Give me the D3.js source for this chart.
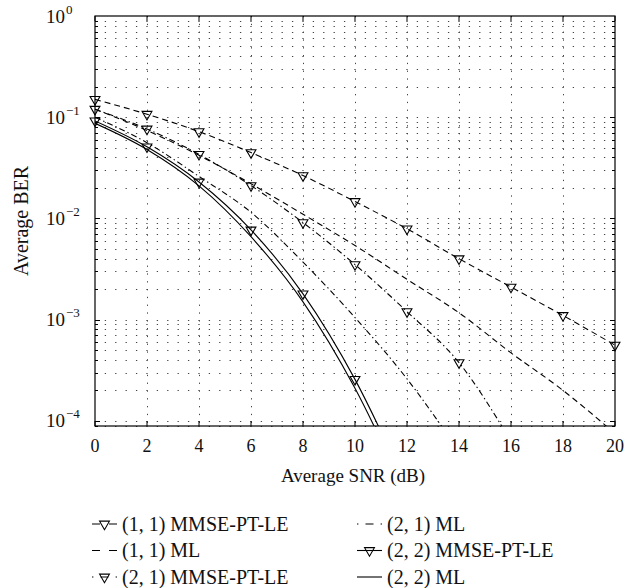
<!DOCTYPE html>
<html>
<head>
<meta charset="utf-8">
<script src="https://cdn.jsdelivr.net/npm/d3@7"></script>
<style>
  body { margin: 0; background: #fff; }
  svg { display: block; font-family: 'Liberation Serif', 'DejaVu Serif', serif; }
</style>
</head>
<body>
<div id="chart"></div>
<script>
// values
const snr = [0, 2, 4, 6, 8, 10, 12, 14, 16, 18, 20];
const ber11Mmse = [0.15, 0.107, 0.072, 0.0447, 0.0265, 0.0147, 0.0079, 0.004, 0.0021, 0.0011, 0.00056];
const ber11Ml = [0.12, 0.074, 0.042, 0.022, 0.011, 0.0054, 0.0025, 0.00117, 0.00047, 0.0002, 0.000075];
const ber21Mmse = [0.12, 0.0765, 0.043, 0.0211, 0.0091, 0.0035, 0.0012, 0.000376, 0.000063];
const ber21Ml = [0.1, 0.056, 0.026, 0.0115, 0.0037, 0.00105, 0.00026, 0.00005];
const ber22Mmse = [0.092, 0.051, 0.0229, 0.0077, 0.0018, 0.000257, 0.000022];
const ber22Ml = [0.087, 0.048, 0.021, 0.0066, 0.0015, 0.00021, 0.000018];

const xTicks = [0, 2, 4, 6, 8, 10, 12, 14, 16, 18, 20];
const yDecades = [0, -1, -2, -3, -4];

const width = 638;
const height = 588;
const margin = { left: 95, right: 23, top: 16, bottom: 162 };

const dashed = '6,4';
const dashDot = '6,3,1.4,3';

const series = [
  { name: '(1, 1) MMSE-PT-LE', values: ber11Mmse, dash: dashed, marker: true },
  { name: '(1, 1) ML', values: ber11Ml, dash: dashed, marker: false },
  { name: '(2, 1) MMSE-PT-LE', values: ber21Mmse, dash: dashDot, marker: true },
  { name: '(2, 1) ML', values: ber21Ml, dash: dashDot, marker: false },
  { name: '(2, 2) MMSE-PT-LE', values: ber22Mmse, dash: null, marker: true },
  { name: '(2, 2) ML', values: ber22Ml, dash: null, marker: false }
];

const yMin = 8.9e-5;
const x = d3.scaleLinear().domain([0, 20]).range([margin.left, width - margin.right]);
const y = d3.scaleLog().domain([yMin, 1]).range([height - margin.bottom, margin.top]);

const svg = d3.select('#chart').append('svg').attr('width', width).attr('height', height);

const x0 = x.range()[0], x1 = x.range()[1];
const y0 = y.range()[0], y1 = y.range()[1];

// grid
const minorY = [];
for (let e = -5; e < 0; e++) {
  for (let m = 1; m < 10; m++) {
    const v = m * Math.pow(10, e);
    if (v >= yMin && v <= 1) minorY.push(v);
  }
}
const grid = svg.append('g').attr('stroke', '#444').attr('stroke-width', 1).attr('fill', 'none');
grid.selectAll('line.h')
  .data(minorY)
  .join('line')
  .attr('class', 'h')
  .attr('x1', x0).attr('x2', x1)
  .attr('y1', (d) => Math.round(y(d)) + 0.5).attr('y2', (d) => Math.round(y(d)) + 0.5)
  .attr('stroke-dasharray', `1.3,${(x(0.4) - x(0) - 1.3).toFixed(2)}`)
  .attr('stroke-dashoffset', 0.65);
grid.selectAll('line.v')
  .data(xTicks.slice(1, -1))
  .join('line')
  .attr('class', 'v')
  .attr('x1', (d) => Math.round(x(d)) + 0.5).attr('x2', (d) => Math.round(x(d)) + 0.5)
  .attr('y1', y1).attr('y2', y0)
  .attr('stroke-dasharray', '1.3,6.5');

// clip for curves
svg.append('clipPath').attr('id', 'clip')
  .append('rect').attr('x', x0).attr('y', y1).attr('width', x1 - x0).attr('height', y0 - y1);

const line = d3.line()
  .x((d, i) => x(snr[i]))
  .y((d) => y(d))
  .curve(d3.curveMonotoneX);

const tri = d3.symbol().type(d3.symbolTriangle).size(42);

const plot = svg.append('g').attr('clip-path', 'url(#clip)');
series.forEach((s) => {
  plot.append('path')
    .attr('d', line(s.values))
    .attr('fill', 'none')
    .attr('stroke', '#000')
    .attr('stroke-width', 1.1)
    .attr('stroke-dasharray', s.dash);
});

// axes box and ticks
const axes = svg.append('g').attr('stroke', '#000').attr('fill', 'none');
axes.append('rect')
  .attr('x', x0).attr('y', y1).attr('width', x1 - x0).attr('height', y0 - y1)
  .attr('stroke-width', 1.2);
xTicks.forEach((t) => {
  axes.append('line').attr('x1', x(t)).attr('x2', x(t)).attr('y1', y0).attr('y2', y0 - 5);
  axes.append('line').attr('x1', x(t)).attr('x2', x(t)).attr('y1', y1).attr('y2', y1 + 5);
});
minorY.forEach((v) => {
  const major = Math.abs(Math.log10(v) - Math.round(Math.log10(v))) < 1e-9;
  const len = major ? 5 : 3;
  const yy = Math.round(y(v)) + 0.5;
  axes.append('line').attr('x1', x0).attr('x2', x0 + len).attr('y1', yy).attr('y2', yy);
  axes.append('line').attr('x1', x1).attr('x2', x1 - len).attr('y1', yy).attr('y2', yy);
});

// markers drawn unclipped, like the original
const marks = svg.append('g');
series.filter((s) => s.marker).forEach((s) => {
  marks.selectAll(null)
    .data(s.values.map((v, i) => [snr[i], v]).filter((d) => d[1] >= yMin))
    .join('path')
    .attr('d', tri)
    .attr('transform', (d) => `translate(${x(d[0])},${y(d[1])}) rotate(180)`)
    .attr('fill', 'none')
    .attr('stroke', '#000')
    .attr('stroke-width', 1.1);
});

// tick labels
svg.append('g')
  .selectAll('text')
  .data(xTicks)
  .join('text')
  .attr('x', (d) => x(d))
  .attr('y', y0 + 26)
  .attr('text-anchor', 'middle')
  .attr('font-size', 18)
  .attr('fill', '#111')
  .text((d) => d);

const yl = svg.append('g')
  .selectAll('text')
  .data(yDecades)
  .join('text')
  .attr('x', 46)
  .attr('y', (d) => y(Math.pow(10, d)) + 6.5)
  .attr('font-size', 19)
  .attr('fill', '#111');
yl.append('tspan').text('10');
yl.append('tspan')
  .attr('font-size', 13)
  .attr('dy', -9)
  .attr('dx', 1)
  .text((d) => (d < 0 ? '\u2212' + -d : d));

// axis titles
svg.append('text')
  .attr('x', 353)
  .attr('y', 482)
  .attr('text-anchor', 'middle')
  .attr('font-size', 19)
  .attr('fill', '#111')
  .text('Average SNR (dB)');
svg.append('text')
  .attr('transform', `translate(28,${(y0 + y1) / 2}) rotate(-90)`)
  .attr('text-anchor', 'middle')
  .attr('font-size', 20)
  .attr('fill', '#111')
  .text('Average BER');

// legend
const legendCols = [92, 357];
const legendRows = [524, 550.5, 577];
const legend = svg.append('g');
series.forEach((s, i) => {
  const lx = legendCols[Math.floor(i / 3)];
  const ly = legendRows[i % 3];
  const g = legend.append('g').attr('transform', `translate(${lx},${ly})`);
  g.append('line')
    .attr('x1', 0).attr('x2', 25).attr('y1', 0).attr('y2', 0)
    .attr('stroke', '#000')
    .attr('stroke-width', 1.1)
    .attr('stroke-dasharray', s.dash === dashed ? '8,9,8' : s.dash === dashDot ? '1.4,7.1,8,7.1,1.4' : null);
  if (s.marker) {
    g.append('path')
      .attr('d', tri)
      .attr('transform', 'translate(12.5,0) rotate(180)')
      .attr('fill', 'none')
      .attr('stroke', '#000')
      .attr('stroke-width', 1.1);
  }
  g.append('text')
    .attr('x', 30)
    .attr('y', 6.5)
    .attr('font-size', 20)
    .attr('fill', '#111')
    .text(s.name);
});
</script>
</body>
</html>
